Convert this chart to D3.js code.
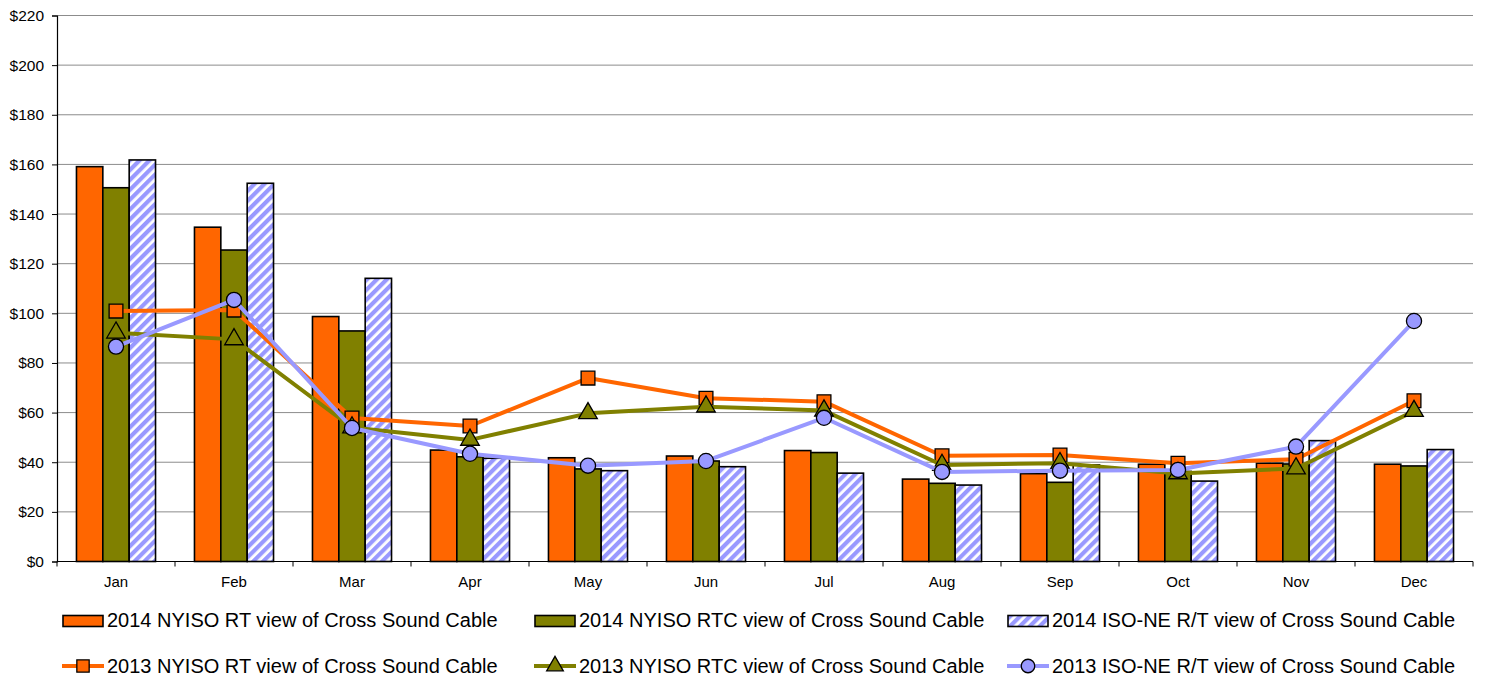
<!DOCTYPE html>
<html><head><meta charset="utf-8">
<script src="https://cdn.jsdelivr.net/npm/d3@7"></script>
<style>body{margin:0;background:#fff;}svg{display:block;font-family:"Liberation Sans",Arial,sans-serif;}</style>
</head><body><svg id="c" width="1485" height="684"></svg>
<script>
const months = ["Jan","Feb","Mar","Apr","May","Jun","Jul","Aug","Sep","Oct","Nov","Dec"];
const yTicks = [0,20,40,60,80,100,120,140,160,180,200,220];
const barSeriesNames = ["2014 NYISO RT view of Cross Sound Cable","2014 NYISO RTC view of Cross Sound Cable","2014 ISO-NE R/T view of Cross Sound Cable"];
const lineSeriesNames = ["2013 NYISO RT view of Cross Sound Cable","2013 NYISO RTC view of Cross Sound Cable","2013 ISO-NE R/T view of Cross Sound Cable"];
const rt2014  = [159.1,134.7,98.7,44.9,41.8,42.5,44.7,33.2,35.4,39.2,39.6,39.2];
const rtc2014 = [150.6,125.5,92.9,42.2,37.3,40.5,43.9,31.5,31.9,36.3,39.3,38.5];
const isone2014 = [161.8,152.4,114.1,41.6,36.6,38.2,35.6,30.8,38.9,32.4,48.7,45.1];
const rt2013  = [100.9,101.3,57.8,54.6,73.9,65.8,64.4,42.6,42.9,39.6,41.2,64.8];
const rtc2013 = [92.2,89.5,54.0,49.0,59.7,62.4,60.8,38.9,39.6,35.5,37.5,60.6];
const isone2013 = [86.6,105.4,53.8,43.4,38.6,40.5,57.9,36.1,36.6,36.9,46.3,96.9];

const svg = d3.select("#c");
const L=57, R=1473, T=15.5, B=561.5;
const x0 = d3.scaleBand().domain(months).range([L,R]).paddingInner(0.33).paddingOuter(0.165);
const x1 = d3.scaleBand().domain([0,1,2]).range([0,x0.bandwidth()]);
const y = d3.scaleLinear().domain([0,220]).range([B,T]);
const xc = m => x0(m)+x0.bandwidth()/2;

const defs = svg.append("defs");
const pat = defs.append("pattern").attr("id","stripe").attr("patternUnits","userSpaceOnUse")
  .attr("width",7).attr("height",7).attr("patternTransform","rotate(45)");
pat.append("rect").attr("width",7).attr("height",7).attr("fill","#fff");
pat.append("rect").attr("width",4.2).attr("height",7).attr("fill","#9999FF");

// gridlines
svg.append("g").selectAll("line").data(yTicks.filter(d=>d>0)).join("line")
  .attr("x1",L).attr("x2",R).attr("y1",d=>y(d)).attr("y2",d=>y(d))
  .attr("stroke","#8c8c8c").attr("stroke-width",1);

// y axis
const ya = svg.append("g").attr("transform",`translate(${L},0)`)
  .call(d3.axisLeft(y).tickValues(yTicks).tickFormat(d=>"$"+d).tickSize(5).tickPadding(8));
ya.select(".domain").attr("stroke","#000").attr("stroke-width",1.2);
ya.selectAll(".tick line").attr("stroke","#000");
ya.selectAll("text").attr("font-size","15.5px").attr("fill","#000").attr("font-family","Liberation Sans, Arial, sans-serif");

// x axis
const step = x0.step();
const xa = svg.append("g").attr("transform",`translate(0,${B})`);
xa.append("line").attr("x1",L).attr("x2",R).attr("stroke","#000").attr("stroke-width",1.2);
xa.selectAll("line.tk").data(d3.range(months.length+1)).join("line").attr("class","tk")
  .attr("x1",i=>L+i*step).attr("x2",i=>L+i*step).attr("y1",0).attr("y2",5).attr("stroke","#000");
xa.selectAll("text").data(months).join("text").attr("x",d=>xc(d)).attr("y",25)
  .attr("text-anchor","middle").attr("font-size","15px").text(d=>d);

// bars
const barFills = ["#FF6600","#808000","url(#stripe)"];
const barData = [rt2014, rtc2014, isone2014];
barData.forEach((arr,si)=>{
  svg.append("g").selectAll("rect").data(arr).join("rect")
    .attr("x",(d,i)=>x0(months[i])+x1(si)).attr("width",x1.bandwidth())
    .attr("y",d=>y(d)).attr("height",d=>B-y(d))
    .attr("fill",barFills[si]).attr("stroke","#000").attr("stroke-width",1.6);
});

// lines
const lineColors = ["#FF6600","#808000","#9999FF"];
const lineData = [rt2013, rtc2013, isone2013];
const markerShapes = [d3.symbolSquare, d3.symbolTriangle, d3.symbolCircle];
const markerSizes = [190, 150, 180];
const line = d3.line().x((d,i)=>xc(months[i])).y(d=>y(d));
lineData.forEach((arr,si)=>{
  const g = svg.append("g");
  g.append("path").datum(arr).attr("d",line).attr("fill","none")
    .attr("stroke",lineColors[si]).attr("stroke-width",4).attr("stroke-linejoin","round");
  g.selectAll("path.m").data(arr).join("path").attr("class","m")
    .attr("transform",(d,i)=>`translate(${xc(months[i])},${y(d)})`)
    .attr("d",d3.symbol().type(markerShapes[si]).size(markerSizes[si]))
    .attr("fill",lineColors[si]).attr("stroke","#000").attr("stroke-width",1.3);
});

// legend
const colX = [63, 535, 1008];
const lg = svg.append("g").attr("font-size","20px");
barSeriesNames.forEach((n,i)=>{
  lg.append("rect").attr("x",colX[i]).attr("y",615.5).attr("width",40).attr("height",11)
    .attr("fill",barFills[i]).attr("stroke","#000").attr("stroke-width",1.6);
  lg.append("text").attr("x",colX[i]+44).attr("y",627).text(n);
});
lineSeriesNames.forEach((n,i)=>{
  lg.append("line").attr("x1",colX[i]-1).attr("x2",colX[i]+41).attr("y1",666).attr("y2",666)
    .attr("stroke",lineColors[i]).attr("stroke-width",4);
  lg.append("path").attr("transform",`translate(${colX[i]+20},666)`)
    .attr("d",d3.symbol().type(markerShapes[i]).size(markerSizes[i]*0.8))
    .attr("fill",lineColors[i]).attr("stroke","#000").attr("stroke-width",1.3);
  lg.append("text").attr("x",colX[i]+44).attr("y",673).text(n);
});
</script></body></html>
